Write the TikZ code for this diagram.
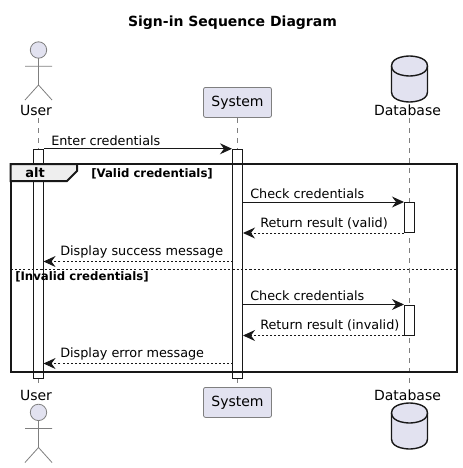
\documentclass[tikz,border=0pt]{standalone}
\usepackage{fontspec}
\setmainfont{DejaVu Sans}
\usetikzlibrary{arrows.meta}
\definecolor{partfill}{HTML}{E2E2F0}
\definecolor{partline}{HTML}{7F7F7F}
\definecolor{tabfill}{HTML}{EEEEEE}
\definecolor{inkline}{HTML}{181818}
\tikzset{
  px/.style = {x=0.75pt, y=-0.75pt},
  part/.style = {draw=partline, fill=partfill, rounded corners=1.5pt, line width=0.6pt, minimum width=51pt, minimum height=22.5pt, inner sep=0pt, font=\fontsize{10.5}{12}\selectfont, text=black},
  partlabel/.style = {inner sep=0pt, font=\fontsize{10.5}{12}\selectfont},
  lifeline/.style = {draw=partline, line width=0.6pt, dash pattern=on 3.75pt off 3.75pt},
  actorline/.style = {draw=partline, line width=0.6pt},
  dbline/.style = {draw=inkline, line width=1.05pt, fill=partfill},
  bar/.style = {draw=inkline, fill=white, line width=0.75pt, minimum width=7.5pt, inner sep=0pt},
  msg/.style = {draw=inkline, line width=0.75pt, -{Stealth[length=9pt, width=8.2pt, inset=3pt]}},
  reply/.style = {msg, dash pattern=on 1.5pt off 1.5pt},
  msgtext/.style = {anchor=west, inner sep=0pt, font=\fontsize{9.6}{12}\selectfont},
  guard/.style = {anchor=west, inner sep=0pt, font=\fontsize{8.8}{10}\selectfont\bfseries},
  framebox/.style = {draw=inkline, line width=1.5pt}
}
\begin{document}
\begin{tikzpicture}[px]
\useasboundingbox (0,0) rectangle (462,468);
\node[font=\fontsize{10.5}{12}\selectfont\bfseries, inner sep=0pt] (title) at (232.5,23) {Sign-in Sequence Diagram};
% heads and feet of the lifelines
\node[partlabel] (usertop) at (36,110) {User};
\node[part] (systemtop) at (237.5,102.4) {System};
\node[partlabel] (dbtop) at (407.5,110) {Database};
\node[partlabel] (userbot) at (36,395) {User};
\node[part] (systembot) at (237.5,402.4) {System};
\node[partlabel] (dbbot) at (407.5,395) {Database};
\draw[lifeline] (38.5,118) -- (38.5,383);
\draw[lifeline] (systemtop) -- (systembot);
\draw[lifeline] (409.5,118) -- (409.5,383);
% actors
\draw[actorline, fill=partfill] (38.5,50) circle (8.2);
\draw[actorline] (38.5,58.2) -- (38.5,85) -- (25,100) (38.5,85) -- (52,100) (25,66.3) -- (52,66.3);
\draw[actorline, fill=partfill] (38.5,412.4) circle (8.2);
\draw[actorline] (38.5,420.6) -- (38.5,447.5) -- (25,462.5) (38.5,447.5) -- (52,462.5) (25,428.5) -- (52,428.5);
% databases
\draw[dbline] (391.5,66) .. controls (391.5,56) and (409.5,56) .. (409.5,56) .. controls (409.5,56) and (427.5,56) .. (427.5,66) -- (427.5,92) .. controls (427.5,102) and (409.5,102) .. (409.5,102) .. controls (409.5,102) and (391.5,102) .. (391.5,92) -- cycle;
\draw[dbline, fill=none] (391.5,66) .. controls (391.5,76) and (409.5,76) .. (409.5,76) .. controls (409.5,76) and (427.5,76) .. (427.5,66);
\draw[dbline] (391.5,413) .. controls (391.5,403) and (409.5,403) .. (409.5,403) .. controls (409.5,403) and (427.5,403) .. (427.5,413) -- (427.5,439) .. controls (427.5,449) and (409.5,449) .. (409.5,449) .. controls (409.5,449) and (391.5,449) .. (391.5,439) -- cycle;
\draw[dbline, fill=none] (391.5,413) .. controls (391.5,423) and (409.5,423) .. (409.5,423) .. controls (409.5,423) and (427.5,423) .. (427.5,413);
% activation bars
\node[bar, minimum height=172.1pt] (userbar) at (38.5,264) {};
\node[bar, minimum height=172.1pt] (systembar) at (237.5,264) {};
\node[bar, minimum height=22.5pt] (dbbara) at (409.5,217.5) {};
\node[bar, minimum height=22.5pt] (dbbarb) at (409.5,320) {};
% alt frame
\draw[framebox] (10.5,164) rectangle (457,371.5);
\draw[framebox, fill=tabfill] (10.5,164) -- (77,164) -- (77,171) -- (67,181) -- (10.5,181) -- cycle;
\node[font=\fontsize{9.75}{12}\selectfont\bfseries, inner sep=0pt] (alttag) at (35,173) {alt};
\node[guard] (validguard) at (91,173.5) {[Valid credentials]};
\draw[draw=inkline, line width=0.75pt, dash pattern=on 1.6pt off 1.6pt] (10.5,269) -- (457,269);
\node[guard] (invalidguard) at (15,276.5) {[Invalid credentials]};
% messages
\coordinate (okfrom) at (232.5,261.5);
\coordinate (okto) at (43.5,261.5);
\coordinate (errfrom) at (232.5,363.5);
\coordinate (errto) at (43.5,363.5);
\draw[msg] (userbar.north east) -- (systembar.north west);
\node[msgtext] (entertext) at (51,141) {Enter credentials};
\draw[msg] (systembar.east |- dbbara.north) -- (dbbara.north west);
\node[msgtext] (checkatext) at (250,193.5) {Check credentials};
\draw[reply] (dbbara.south west) -- (systembar.east |- dbbara.south);
\node[msgtext] (returnatext) at (260,223) {Return result (valid)};
\draw[reply] (okfrom) -- (okto);
\node[msgtext] (successtext) at (60,252) {Display success message};
\draw[msg] (systembar.east |- dbbarb.north) -- (dbbarb.north west);
\node[msgtext] (checkbtext) at (250,295.5) {Check credentials};
\draw[reply] (dbbarb.south west) -- (systembar.east |- dbbarb.south);
\node[msgtext] (returnbtext) at (260,325) {Return result (invalid)};
\draw[reply] (errfrom) -- (errto);
\node[msgtext] (errortext) at (60,354) {Display error message};
\end{tikzpicture}
\end{document}
